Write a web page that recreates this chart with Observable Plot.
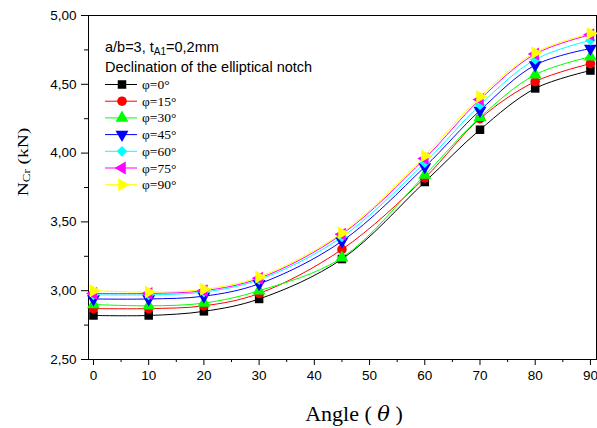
<!DOCTYPE html>
<html>
<head>
<meta charset="utf-8">
<script src="https://cdn.jsdelivr.net/npm/d3@7"></script>
<script src="https://cdn.jsdelivr.net/npm/@observablehq/plot@0.6"></script>
<style>
  body { margin: 0; background: #fff; }
  #wrap { position: relative; width: 597px; height: 428px; }
  #wrap svg.overlay { position: absolute; left: 0; top: 0; pointer-events: none; }
</style>
</head>
<body>
<div id="wrap"></div>
<script>
// Test angles and critical load N_Cr (kN) for each notch declination φ
const angles = [0, 10, 20, 30, 45, 60, 70, 80, 90];
const phi0  = [2.82, 2.82, 2.85, 2.94, 3.23, 3.79, 4.17, 4.47, 4.60];
const phi15 = [2.87, 2.87, 2.89, 2.98, 3.30, 3.82, 4.25, 4.52, 4.65];
const phi30 = [2.90, 2.89, 2.91, 3.00, 3.24, 3.84, 4.26, 4.57, 4.70];
const phi45 = [2.94, 2.94, 2.96, 3.05, 3.36, 3.90, 4.31, 4.64, 4.76];
const phi60 = [2.97, 2.97, 2.99, 3.08, 3.39, 3.93, 4.35, 4.68, 4.82];
const phi75 = [2.98, 2.98, 3.00, 3.09, 3.41, 3.96, 4.39, 4.72, 4.86];
const phi90 = [3.00, 2.99, 3.01, 3.10, 3.42, 3.98, 4.41, 4.73, 4.87];

const seriesNames = ["φ=0°", "φ=15°", "φ=30°", "φ=45°", "φ=60°", "φ=75°", "φ=90°"];
const seriesValues = [phi0, phi15, phi30, phi45, phi60, phi75, phi90];
const seriesColors = ["#000000", "#ff0000", "#00ff00", "#0000ff", "#00ffff", "#ff00ff", "#ffff00"];

const xTicks = [0, 10, 20, 30, 40, 50, 60, 70, 80, 90];
const yTicks = [2.5, 3.0, 3.5, 4.0, 4.5, 5.0];

// equilateral triangle symbol rotated by the given angle (degrees)
function triangleSym(angle) {
  return {
    draw(ctx, size) {
      const r = Math.sqrt(size / 1.299);
      const pts = [0, 120, 240].map(a => {
        const t = (a + angle) * Math.PI / 180;
        return [r * Math.sin(t), -r * Math.cos(t)];
      });
      ctx.moveTo(pts[0][0], pts[0][1]);
      ctx.lineTo(pts[1][0], pts[1][1]);
      ctx.lineTo(pts[2][0], pts[2][1]);
      ctx.closePath();
    }
  };
}
const seriesSymbols = [d3.symbolSquare, d3.symbolCircle, triangleSym(0), triangleSym(180), d3.symbolDiamond2, triangleSym(270), triangleSym(90)];
const dotR = 4.8;

const data = [];
seriesNames.forEach((name, i) => {
  angles.forEach((a, j) => data.push({series: name, idx: i, angle: a, value: seriesValues[i][j]}));
});

const fmt = v => d3.format(".2f")(v).replace(".", ",");

const plot = Plot.plot({
  width: 597,
  height: 428,
  marginLeft: 88,
  marginRight: 1,
  marginTop: 15,
  marginBottom: 69,
  style: {fontFamily: "Liberation Sans, Arial, sans-serif", fontSize: "13.5px", color: "#000"},
  x: {domain: [-0.9, 91.1]},
  y: {domain: [2.5, 5.0]},
  marks: [
    Plot.frame({stroke: "#000", strokeWidth: 1}),
    Plot.axisX({ticks: xTicks, tickSize: 6, tickPadding: 5, label: null, fontSize: 13.5}),
    Plot.axisX({ticks: d3.range(5, 90, 10), tickSize: 3, text: null, label: null}),
    Plot.axisY({ticks: yTicks, tickSize: 7, tickPadding: 5, tickFormat: fmt, label: null, fontSize: 13.5}),
    Plot.axisY({ticks: d3.range(2.75, 5, 0.5), tickSize: 4, text: null, label: null}),
    ...seriesNames.map((name, i) =>
      Plot.line(data.filter(d => d.idx === i), {x: "angle", y: "value", stroke: seriesColors[i], strokeWidth: 1, curve: "catmull-rom"})
    ),
    ...seriesNames.map((name, i) =>
      Plot.dot(data.filter(d => d.idx === i), {x: "angle", y: "value", fill: seriesColors[i], stroke: "none", symbol: () => seriesSymbols[i], r: dotR})
    )
  ]
});

const wrap = document.getElementById("wrap");
wrap.appendChild(plot);

// overlay for axis titles and the legend
const ov = d3.select(wrap).append("svg")
  .attr("class", "overlay").attr("width", 597).attr("height", 428);

// y axis title: N_Cr (kN)
const yt = ov.append("text")
  .attr("transform", "translate(28,162) rotate(-90) scale(1.3,1)")
  .attr("text-anchor", "middle")
  .attr("font-family", "Liberation Serif, serif")
  .attr("font-size", 15);
yt.append("tspan").text("N");
yt.append("tspan").attr("font-size", 10).attr("dy", 2).text("Cr");
yt.append("tspan").attr("dy", -2).text(" (kN)");

// x axis title: Angle ( θ )
const xt = ov.append("text")
  .attr("x", 354).attr("y", 421)
  .attr("text-anchor", "middle")
  .attr("font-family", "Liberation Serif, serif")
  .attr("font-size", 22);
xt.append("tspan").text("Angle ( ");
xt.append("tspan").attr("font-family", "DejaVu Serif, serif").attr("font-style", "italic").attr("font-size", 21).text("θ");
xt.append("tspan").text(" )");

// legend headings
const h1 = ov.append("text").attr("x", 105).attr("y", 52)
  .attr("font-family", "Liberation Sans, Arial, sans-serif").attr("font-size", 14.5);
h1.append("tspan").text("a/b=3, t");
h1.append("tspan").attr("font-size", 10).attr("dy", 3).text("A1");
h1.append("tspan").attr("dy", -3).text("=0,2mm");
ov.append("text").attr("x", 105).attr("y", 72)
  .attr("font-family", "Liberation Sans, Arial, sans-serif").attr("font-size", 14.5)
  .text("Declination of the elliptical notch");

// legend entries
seriesNames.forEach((name, i) => {
  const cy = 84.5 + i * 16.7;
  ov.append("line").attr("x1", 105).attr("x2", 137).attr("y1", cy).attr("y2", cy)
    .attr("stroke", seriesColors[i]).attr("stroke-width", 1);
  ov.append("path").attr("transform", `translate(122,${cy})`).attr("fill", seriesColors[i])
    .attr("d", d3.symbol(seriesSymbols[i], Math.PI * dotR * dotR)());
  ov.append("text").attr("x", 142).attr("y", cy + 4.5)
    .attr("font-family", "Liberation Serif, serif").attr("font-size", 13.5)
    .text(name);
});
</script>
</body>
</html>
